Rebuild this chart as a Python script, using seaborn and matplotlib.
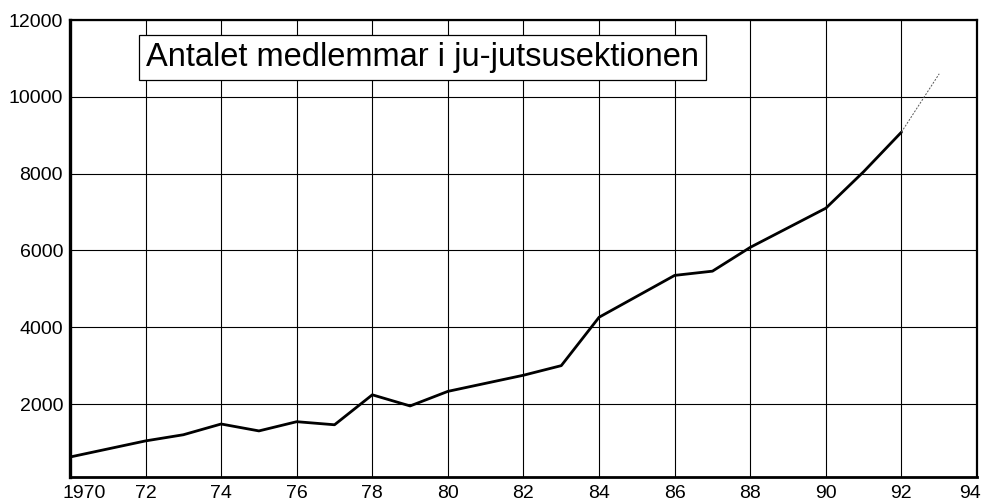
import numpy as np
import pandas as pd
import seaborn as sns
from matplotlib import pyplot as plt
from matplotlib.transforms import ScaledTranslation

# medlemsantal
years = [1970, 1972, 1973, 1974, 1975, 1976, 1977, 1978, 1979, 1980,
         1982, 1983, 1984, 1986, 1987, 1988, 1990, 1991, 1992]
members = [620, 1040, 1200, 1480, 1300, 1540, 1460, 2240, 1950, 2330,
           2750, 3000, 4260, 5350, 5460, 6080, 7100, 8050, 9080]
# prognos, tunn streckad linje
proj_years = [1992, 1993]
proj_members = [9080, 10600]

xticks = list(range(1970, 1995, 2))
xlabels = ['1970'] + [str(y % 100) for y in xticks[1:]]
yticks = [2000, 4000, 6000, 8000, 10000, 12000]
title = 'Antalet medlemmar i ju-jutsusektionen'

df = pd.DataFrame({'year': years, 'members': members})
proj = pd.DataFrame({'year': proj_years, 'members': proj_members})

sns.set_style('white')
plt.rcParams['font.family'] = ['Liberation Sans', 'DejaVu Sans']

fig = plt.figure(figsize=(9.84, 5.03), dpi=100)
ax = fig.add_axes([0.0711, 0.0517, 0.9218, 0.9085])

ax.grid(True, color='black', linewidth=0.8)
ax.set_axisbelow(True)

sns.lineplot(data=df, x='year', y='members', color='black', linewidth=2.0, ax=ax)
sns.lineplot(data=proj, x='year', y='members', color='#555555', linewidth=0.7,
             linestyle=(0, (2, 1.5)), ax=ax)

ax.set_xlim(1970, 1994)
ax.set_ylim(100, 12000)
ax.set_xticks(xticks)
ax.set_xticklabels(xlabels)
ax.set_yticks(yticks)
ax.set_yticklabels([str(v) for v in yticks])
ax.set_xlabel('')
ax.set_ylabel('')
ax.tick_params(length=0, labelsize=14, colors='black')
ax.tick_params(axis='x', pad=6)
ax.tick_params(axis='y', pad=5)

labels = ax.get_xticklabels()
labels[0].set_transform(labels[0].get_transform() + ScaledTranslation(14 / 100, 0, fig.dpi_scale_trans))
labels[-1].set_transform(labels[-1].get_transform() + ScaledTranslation(-7 / 100, 0, fig.dpi_scale_trans))

for side, lw in [('left', 2.4), ('bottom', 2.0), ('top', 1.6), ('right', 1.6)]:
    ax.spines[side].set_visible(True)
    ax.spines[side].set_color('black')
    ax.spines[side].set_linewidth(lw)

ax.text(0.084, 0.918, title, transform=ax.transAxes, fontsize=23.5,
        ha='left', va='center', color='black',
        bbox=dict(boxstyle='square,pad=0.22', facecolor='white',
                  edgecolor='black', linewidth=0.9))

fig.savefig('out.png', dpi=100)
